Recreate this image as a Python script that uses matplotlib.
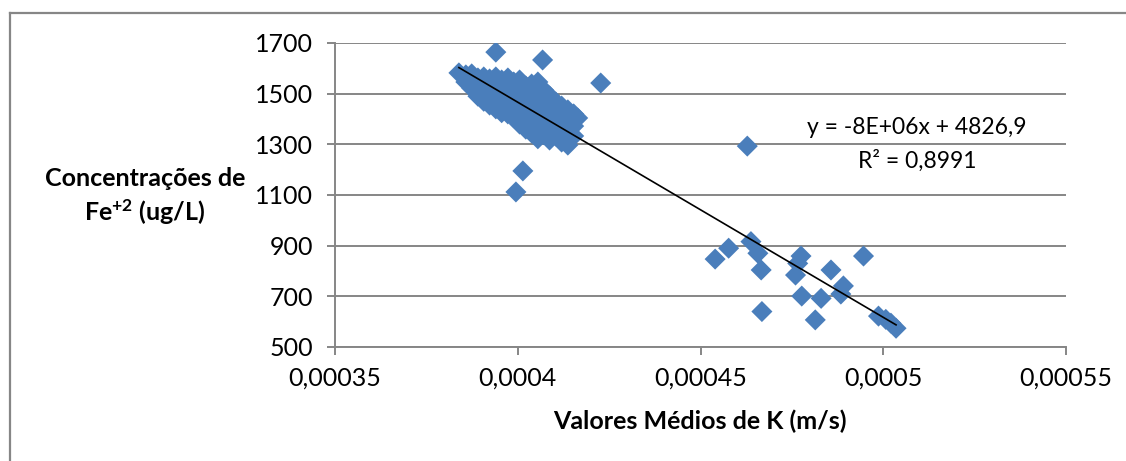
import matplotlib
matplotlib.use("Agg")
import matplotlib.pyplot as plt
from matplotlib.lines import Line2D
from matplotlib.ticker import FuncFormatter
import numpy as np

plt.rcParams['font.family'] = ['Lato', 'DejaVu Sans']
plt.rcParams['mathtext.fontset'] = 'custom'
plt.rcParams['mathtext.rm'] = 'Lato'
plt.rcParams['mathtext.bf'] = 'Lato:bold'
plt.rcParams['mathtext.default'] = 'bf'

# dense group, read column by column (K in m/s, Fe+2 in ug/L)
k_cluster = [
    0.0003839,
    0.0003858, 0.0003858,
    0.0003874, 0.0003874, 0.0003874,
    0.0003891, 0.0003891, 0.0003891,
    0.0003907, 0.0003907, 0.0003907, 0.0003907,
    0.0003923, 0.0003923, 0.0003923, 0.0003923,
    0.0003940, 0.0003940, 0.0003940, 0.0003940, 0.0003940,
    0.0003956, 0.0003956, 0.0003956, 0.0003956, 0.0003956,
    0.0003973, 0.0003973, 0.0003973, 0.0003973, 0.0003973,
    0.0003989, 0.0003989, 0.0003989, 0.0003989, 0.0003989,
    0.0004005, 0.0004005, 0.0004005, 0.0004005, 0.0004005, 0.0004005,
    0.0004022, 0.0004022, 0.0004022, 0.0004022, 0.0004022, 0.0004022,
    0.0004038, 0.0004038, 0.0004038, 0.0004038, 0.0004038, 0.0004038,
    0.0004055, 0.0004055, 0.0004055, 0.0004055, 0.0004055, 0.0004055,
    0.0004071, 0.0004071, 0.0004071, 0.0004071, 0.0004071,
    0.0004087, 0.0004087, 0.0004087, 0.0004087, 0.0004087,
    0.0004104, 0.0004104, 0.0004104, 0.0004104,
    0.0004120, 0.0004120, 0.0004120, 0.0004120,
    0.0004137, 0.0004137, 0.0004137, 0.0004137,
    0.0004153, 0.0004153, 0.0004153,
    0.0004164,
]
fe_cluster = [
    1582,
    1574, 1546,
    1578, 1554, 1522,
    1562, 1530, 1490,
    1566, 1538, 1507, 1470,
    1558, 1522, 1491, 1455,
    1566, 1538, 1507, 1475, 1440,
    1554, 1522, 1491, 1459, 1425,
    1562, 1530, 1499, 1467, 1420,
    1546, 1514, 1483, 1451, 1405,
    1554, 1522, 1491, 1459, 1420, 1380,
    1530, 1507, 1475, 1436, 1396, 1360,
    1538, 1507, 1467, 1428, 1388, 1345,
    1546, 1507, 1459, 1412, 1365, 1322,
    1514, 1475, 1436, 1388, 1338,
    1491, 1451, 1404, 1357, 1317,
    1467, 1428, 1380, 1333,
    1451, 1404, 1357, 1309,
    1436, 1388, 1341, 1297,
    1420, 1372, 1333,
    1404,
]

# isolated points
k_other = [0.0003940, 0.0004068, 0.0004227, 0.0004014, 0.0003995, 0.0004628,
           0.0004540, 0.0004577, 0.0004638, 0.0004657, 0.0004666, 0.0004668,
           0.0004775, 0.0004766, 0.0004760, 0.0004777, 0.0004814, 0.0004830,
           0.0004857, 0.0004891, 0.0004884, 0.0004946, 0.0004987, 0.0005007,
           0.0005021, 0.0005035]
fe_other = [1664, 1633, 1542, 1195, 1112, 1293,
            847, 890, 916, 870, 804, 640,
            859, 830, 784, 701, 607, 692,
            804, 741, 709, 859, 622, 609,
            594, 574]

k = np.array(k_cluster + k_other)
fe = np.array(fe_cluster + fe_other)

x_ticks = [0.00035, 0.0004, 0.00045, 0.0005, 0.00055]
y_ticks = [500, 700, 900, 1100, 1300, 1500, 1700]
eq_text = "y = -8E+06x + 4826,9"
r2_text = "R² = 0,8991"

W, H = 1126, 461
fs = 18
fig = plt.figure(figsize=(W / 100, H / 100), dpi=100)
ax = fig.add_axes([335 / W, 1 - 347 / H, (1066 - 335) / W, (347 - 43) / H])

gray = '#868686'
ax.scatter(k, fe, marker='D', s=115, color='#4A7EBB', edgecolors='none', zorder=3)

slope, intercept = np.polyfit(k, fe, 1)
xs = np.array([k.min(), k.max()])
ax.plot(xs, slope * xs + intercept, color='black', lw=1.2, zorder=4)

ax.set_xlim(x_ticks[0], x_ticks[-1])
ax.set_ylim(y_ticks[0], y_ticks[-1])
ax.set_xticks(x_ticks)
ax.set_yticks(y_ticks)
ax.xaxis.set_major_formatter(FuncFormatter(
    lambda v, p: f"{v:.5f}".rstrip('0').replace('.', ',')))
ax.yaxis.grid(True, color=gray, lw=1.4)
ax.set_axisbelow(True)
for s in ['top', 'right']:
    ax.spines[s].set_visible(False)
for s in ['left', 'bottom']:
    ax.spines[s].set_color(gray)
    ax.spines[s].set_linewidth(1.4)
ax.tick_params(axis='both', colors=gray, labelcolor='black', labelsize=fs,
               length=6, width=1.4, direction='out')
ax.tick_params(axis='y', pad=10)
ax.tick_params(axis='x', pad=8)

fig.text(145 / W, 1 - 197 / H, "Concentrações de\nFe$^{+2}$ (ug/L)", ha='center',
         va='center', fontsize=fs, fontweight='bold', linespacing=1.35)
fig.text(700 / W, 1 - 421 / H, "Valores Médios de K (m/s)", ha='center',
         va='center', fontsize=fs, fontweight='bold')
fig.text(917 / W, 1 - 127 / H, eq_text, ha='center', va='center', fontsize=16.5)
fig.text(917 / W, 1 - 161 / H, r2_text, ha='center', va='center', fontsize=16.5)

# outer chart frame (only left and top edges fall inside the picture)
fig.add_artist(Line2D([9.5 / W, 9.5 / W], [0, 1 - 13.5 / H], color=gray, lw=1.6))
fig.add_artist(Line2D([9.5 / W, 1], [1 - 13.5 / H, 1 - 13.5 / H], color=gray, lw=1.6))

fig.savefig("out.png", dpi=100)
